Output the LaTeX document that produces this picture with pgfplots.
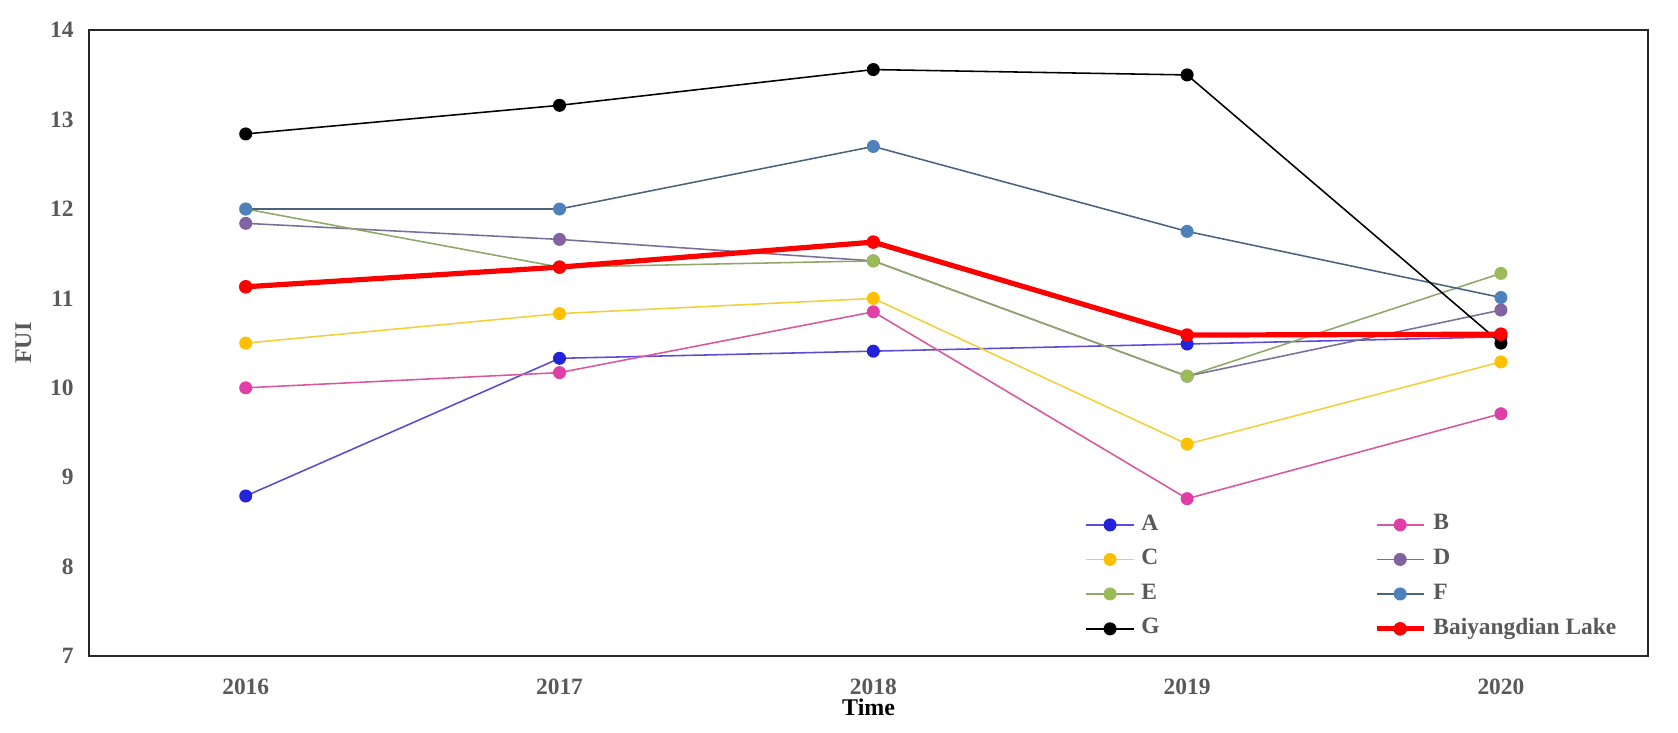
\documentclass[border=0pt]{standalone}
\usepackage{pgfplots}
\pgfplotsset{compat=1.18}
\usepackage{fontspec}
\setmainfont{Liberation Serif}

\definecolor{cA}{HTML}{2323D9}
\definecolor{cAl}{HTML}{5B4BD6}
\definecolor{cB}{HTML}{E03FA8}
\definecolor{cBl}{HTML}{D8579E}
\definecolor{cC}{HTML}{FFC000}
\definecolor{cCl}{HTML}{F2D03A}
\definecolor{cD}{HTML}{8064A2}
\definecolor{cDl}{HTML}{7A6E9A}
\definecolor{cE}{HTML}{9BBB59}
\definecolor{cEl}{HTML}{8FA86A}
\definecolor{cF}{HTML}{4F81BD}
\definecolor{cFl}{HTML}{4A6480}
\definecolor{tickgrey}{HTML}{595959}

\begin{document}
\begin{tikzpicture}
\path[use as bounding box] (0,0) rectangle (17cm,7.416cm);
\begin{axis}[
    at={(0.900cm,0.770cm)}, anchor=south west,
    scale only axis,
    width=15.80cm, height=6.34cm,
    xmin=2015.5, xmax=2020.47,
    ymin=7, ymax=14,
    xtick={2016,2017,2018,2019,2020},
    ytick={7,8,...,14},
    major tick length=0pt,
    axis line style={black!85, line width=0.55pt},
    /pgf/number format/assume math mode=true,
    xticklabel style={font=\fontsize{6.75}{7.5}\selectfont\bfseries, text=tickgrey, yshift=-1.1mm},
    yticklabel style={font=\fontsize{6.75}{7.5}\selectfont\bfseries, text=tickgrey, xshift=-0.3mm},
    xticklabel={\pgfmathprintnumber[fixed,precision=0,1000 sep={}]{\tick}},
    xlabel={Time},
    ylabel={FUI},
    xlabel style={font=\fontsize{6.9}{7.5}\selectfont\bfseries, text=black, yshift=2.0mm},
    ylabel style={font=\fontsize{6.9}{7.5}\selectfont\bfseries, text=tickgrey, yshift=-0.5mm},
    legend style={
        at={(0.632,0.003)}, anchor=south west,
        draw=none, fill=none,
        font=\fontsize{6.75}{7.5}\selectfont\bfseries,
        text=tickgrey,
        /tikz/every even column/.append style={column sep=2.1cm},
        row sep=0pt,
    },
    legend columns=2,
    legend cell align=left,
    legend image code/.code={
        \draw[mark repeat=2,mark phase=2] plot coordinates {(0cm,0cm) (0.24cm,0cm) (0.48cm,0cm)};
    },
    every axis plot/.append style={line width=0.45pt, mark=*, mark size=1.65pt},
]
\addplot[color=cAl, mark options={draw=cA, fill=cA}] coordinates {
    (2016,8.79) (2017,10.33) (2018,10.41) (2019,10.49) (2020,10.57)};
\addlegendentry{A}
\addplot[color=cBl, mark options={draw=cB, fill=cB}] coordinates {
    (2016,10.00) (2017,10.17) (2018,10.85) (2019,8.76) (2020,9.71)};
\addlegendentry{B}
\addplot[color=cCl, mark options={draw=cC, fill=cC}] coordinates {
    (2016,10.50) (2017,10.83) (2018,11.00) (2019,9.37) (2020,10.29)};
\addlegendentry{C}
\addplot[color=cDl, mark options={draw=cD, fill=cD}] coordinates {
    (2016,11.84) (2017,11.66) (2018,11.42) (2019,10.13) (2020,10.87)};
\addlegendentry{D}
\addplot[color=cEl, mark options={draw=cE, fill=cE}] coordinates {
    (2016,12.00) (2017,11.35) (2018,11.42) (2019,10.13) (2020,11.28)};
\addlegendentry{E}
\addplot[color=cFl, mark options={draw=cF, fill=cF}] coordinates {
    (2016,12.00) (2017,12.00) (2018,12.70) (2019,11.75) (2020,11.01)};
\addlegendentry{F}
\addplot[color=black, mark options={draw=black, fill=black}] coordinates {
    (2016,12.84) (2017,13.16) (2018,13.56) (2019,13.50) (2020,10.50)};
\addlegendentry{G}
\addplot[color=red, line width=1.5pt, mark options={draw=red, fill=red, line width=0.4pt}, mark size=1.75pt] coordinates {
    (2016,11.13) (2017,11.35) (2018,11.63) (2019,10.59) (2020,10.60)};
\addlegendentry{Baiyangdian Lake}
\end{axis}
\end{tikzpicture}
\end{document}
